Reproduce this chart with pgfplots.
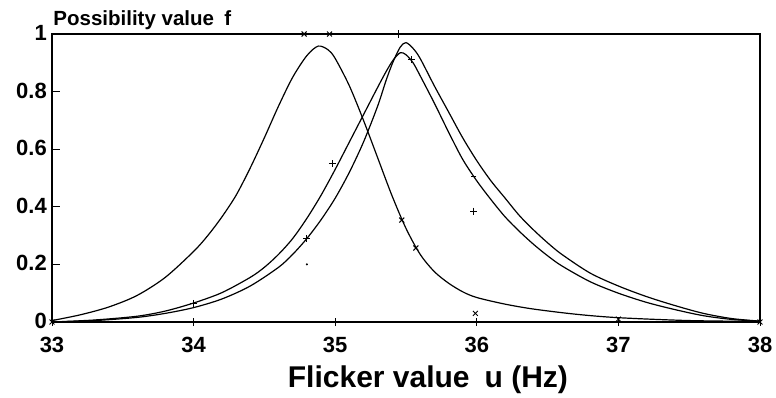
\documentclass[border=0pt]{standalone}
\usepackage{fontspec}
\setmainfont{Liberation Sans}
\usepackage{pgfplots}
\pgfplotsset{compat=1.18}
\begin{document}
\begin{tikzpicture}
\begin{axis}[
  scale only axis, width=708pt, height=288pt,
  xmin=33, xmax=38, ymin=0, ymax=1,
  xtick={33,34,35,36,37,38},
  ytick={0,0.2,0.4,0.6,0.8,1},
  yticklabels={0,0.2,0.4,0.6,0.8,1},
  xticklabels={33,34,35,36,37,38},
  xtick pos=bottom, ytick pos=left,
  xtick align=center, ytick align=inside,
  major tick length=8pt,
  tick style={black, line width=1pt},
  axis line style={line width=1.1pt},
  ticklabel style={font=\fontsize{22}{22}\selectfont\bfseries, inner sep=2pt},
  xticklabel style={yshift=-9pt},
  yticklabel style={xshift=-3pt, yshift=1pt},
  /pgf/number format/assume math mode=true,
  xlabel={Flicker value\enspace u (Hz)},
  xlabel style={font=\fontsize{30}{30}\selectfont\bfseries, at={(axis description cs:0.531,-0.229)}, anchor=base},
  clip=false,
]
% curve A
\addplot[black, line width=1.2pt, smooth] coordinates {
(33.0,0.005)(33.2,0.025)(33.4,0.052)(33.6,0.092)(33.8,0.155)(34.0,0.245)(34.1,0.30)(34.2,0.365)(34.3,0.44)(34.4,0.535)(34.5,0.64)(34.6,0.75)(34.7,0.85)(34.8,0.925)(34.88,0.958)
(34.95,0.945)(35.0,0.915)(35.1,0.82)(35.2,0.70)(35.3,0.57)(35.4,0.44)(35.5,0.325)(35.6,0.235)(35.7,0.175)(35.8,0.135)(35.9,0.105)(36.0,0.085)(36.2,0.062)(36.4,0.045)(36.7,0.027)(37.0,0.015)(37.5,0.005)(38.0,0.002)};
% curve B
\addplot[black, line width=1.2pt, smooth] coordinates {
(33.0,0)(33.3,0.005)(33.6,0.016)(33.8,0.03)(34.0,0.05)(34.2,0.08)(34.4,0.125)(34.6,0.19)(34.7,0.235)(34.8,0.29)(34.9,0.355)(35.0,0.43)(35.1,0.52)(35.2,0.625)(35.3,0.75)(35.36,0.84)(35.41,0.905)(35.46,0.955)(35.5,0.97)
(35.55,0.95)(35.6,0.915)(35.7,0.82)(35.8,0.73)(35.9,0.64)(36.0,0.56)(36.1,0.49)(36.2,0.43)(36.3,0.37)(36.4,0.32)(36.5,0.275)(36.6,0.235)(36.8,0.17)(37.0,0.125)(37.2,0.088)(37.4,0.057)(37.6,0.03)(37.8,0.012)(38.0,0.003)};
% curve C
\addplot[black, line width=1.2pt, smooth] coordinates {
(33.0,0)(33.3,0.007)(33.6,0.02)(33.8,0.038)(34.0,0.066)(34.2,0.102)(34.4,0.155)(34.5,0.19)(34.6,0.235)(34.7,0.29)(34.8,0.36)(34.9,0.44)(35.0,0.53)(35.1,0.625)(35.2,0.72)(35.3,0.815)(35.36,0.87)(35.41,0.91)(35.46,0.935)
(35.5,0.928)(35.55,0.9)(35.6,0.855)(35.7,0.76)(35.8,0.66)(35.9,0.565)(36.0,0.49)(36.1,0.425)(36.2,0.365)(36.3,0.315)(36.4,0.27)(36.5,0.23)(36.6,0.195)(36.8,0.14)(37.0,0.1)(37.2,0.068)(37.4,0.043)(37.6,0.022)(37.8,0.009)(38.0,0.003)};
% x marks
\addplot[only marks, mark=x, mark size=3.5pt, mark options={line width=1pt, black}] coordinates {
(33,0)(34.78,1)(34.96,1)(35.47,0.354)(35.57,0.257)(35.99,0.03)(37,0.01)(38,0)};
% + marks
\addplot[only marks, mark=+, mark size=3.5pt, mark options={line width=1pt, black}] coordinates {
(34,0.065)(34.8,0.29)(34.98,0.55)(35.54,0.91)(35.98,0.385)};
% other ticks
\addplot[only marks, mark=|, mark size=4pt, mark options={line width=0.9pt, black}] coordinates {(35.45,1)};
\addplot[only marks, mark=-, mark size=2.5pt, mark options={line width=0.9pt, black}] coordinates {(35.98,0.505)};
\addplot[only marks, mark=*, mark size=0.8pt, black] coordinates {(34.8,0.2)};
\node[anchor=base west, font=\fontsize{20.5}{20.5}\selectfont\bfseries] at (axis description cs:-0.003,1.028) {Possibility value\enspace f};
\coordinate (sw) at (axis description cs:0,0);
\coordinate (ne) at (axis description cs:1,1);
\end{axis}
\path ([xshift=-52pt,yshift=-74pt]sw) rectangle ([xshift=16pt,yshift=34pt]ne);
\end{tikzpicture}
\end{document}
